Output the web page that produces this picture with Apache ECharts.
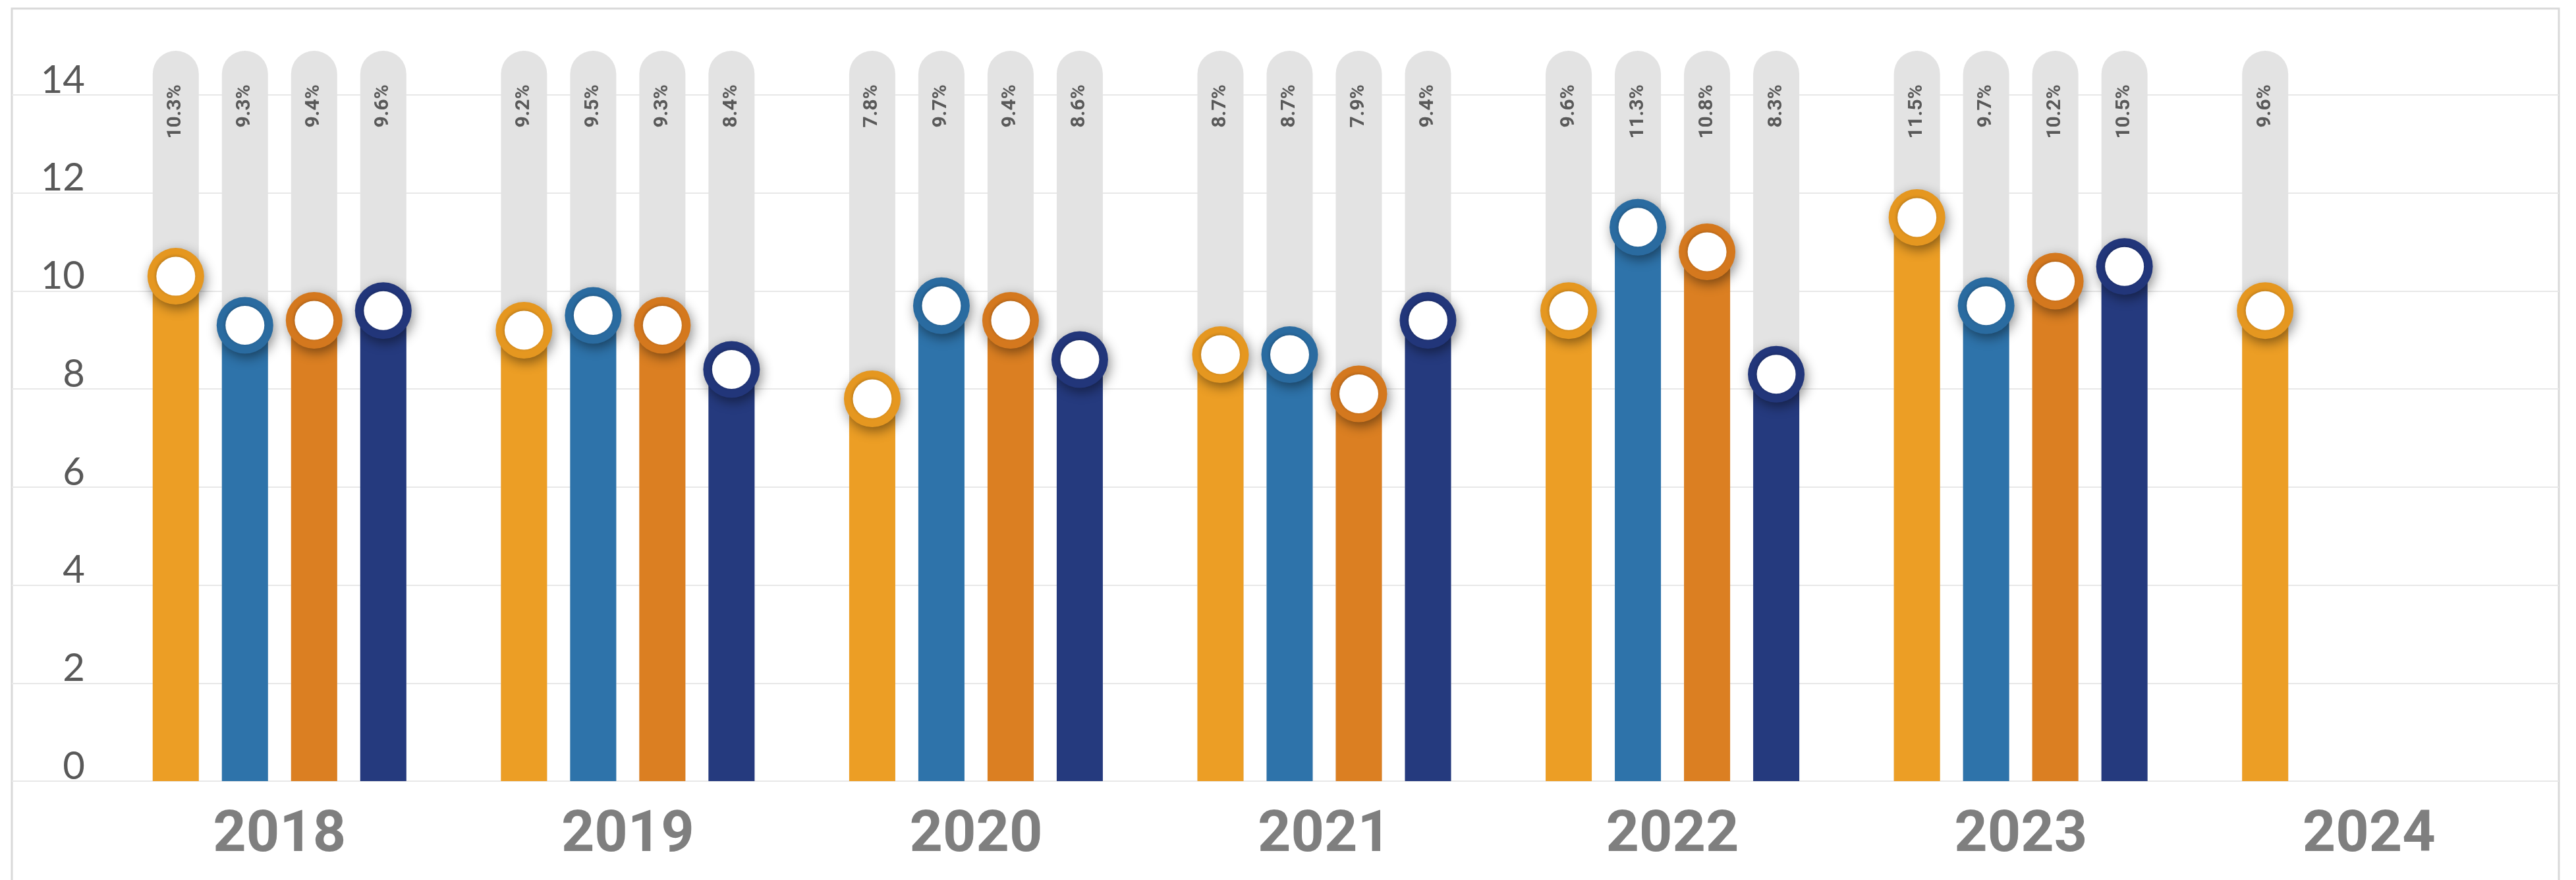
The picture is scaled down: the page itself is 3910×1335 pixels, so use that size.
<!DOCTYPE html>
<html>
<head>
<meta charset="utf-8">
<script src="https://cdn.jsdelivr.net/npm/echarts@6/dist/echarts.min.js"></script>
<style>
  html, body { margin: 0; padding: 0; background: #ffffff; }
  #chart { width: 3910px; height: 1335px; }
</style>
</head>
<body>
<div id="chart"></div>
<script>
// Years on the category axis
const years = ['2018', '2019', '2020', '2021', '2022', '2023', '2024'];

// Quarterly rates (%) for each year; 2024 has only its first quarter so far
const q1 = [10.3, 9.2, 7.8, 8.7, 9.6, 11.5, 9.6];
const q2 = [9.3, 9.5, 9.7, 8.7, 11.3, 9.7, null];
const q3 = [9.4, 9.3, 9.4, 7.9, 10.8, 10.2, null];
const q4 = [9.6, 8.4, 8.6, 9.4, 8.3, 10.5, null];

// Value axis ticks
const yTicks = [0, 2, 4, 6, 8, 10, 12, 14];

const quarters = [q1, q2, q3, q4];
const colors = ['#EC9E25', '#2E73AA', '#DB7F22', '#253A7E'];
const ringColors = ['#E59720', '#2A6BA0', '#D4781E', '#22367A'];
const TRACK_TOP = 14.9;      // height of the grey track behind each bar
const BAR_W = 70;
const GAP = '50%';

const chart = echarts.init(document.getElementById('chart'), null, { renderer: 'canvas' });

const series = [];

// grey rounded tracks carrying the rotated value labels
quarters.forEach((vals, i) => {
  series.push({
    type: 'bar',
    xAxisIndex: 1,
    yAxisIndex: 1,
    barWidth: BAR_W,
    barGap: GAP,
    clip: false,
    z: 1,
    silent: true,
    itemStyle: { color: '#E3E3E3', borderRadius: [35, 35, 0, 0] },
    data: vals.map(v => (v == null ? null : TRACK_TOP)),
    label: {
      show: true,
      position: 'insideTop',
      distance: 51,
      rotate: 90,
      align: 'right',
      verticalAlign: 'middle',
      fontFamily: 'Roboto',
      fontWeight: 'bold',
      fontSize: 30,
      color: '#595959',
      formatter: p => vals[p.dataIndex].toFixed(1) + '%'
    }
  });
});

// coloured value bars
quarters.forEach((vals, i) => {
  series.push({
    type: 'bar',
    xAxisIndex: 2,
    yAxisIndex: 1,
    barWidth: BAR_W,
    barGap: GAP,
    z: 2,
    silent: true,
    itemStyle: { color: colors[i] },
    data: vals
  });
});

// ring markers on top of each bar: a coloured disc with a drop shadow ...
quarters.forEach((vals, i) => {
  series.push({
    type: 'pictorialBar',
    xAxisIndex: 3,
    yAxisIndex: 1,
    barWidth: BAR_W,
    barGap: GAP,
    z: 3,
    silent: true,
    symbol: 'circle',
    symbolSize: [86, 86],
    symbolPosition: 'end',
    symbolOffset: [0, '-50%'],
    itemStyle: {
      color: ringColors[i],
      shadowColor: 'rgba(0,0,0,0.45)',
      shadowBlur: 18,
      shadowOffsetX: 3,
      shadowOffsetY: 6
    },
    data: vals
  });
});

// ... and a white centre
quarters.forEach((vals, i) => {
  series.push({
    type: 'pictorialBar',
    xAxisIndex: 4,
    yAxisIndex: 1,
    barWidth: BAR_W,
    barGap: GAP,
    z: 4,
    silent: true,
    symbol: 'circle',
    symbolSize: [59, 59],
    symbolPosition: 'end',
    symbolOffset: [0, '-50%'],
    itemStyle: {
      color: '#ffffff',
      shadowColor: 'rgba(0,0,0,0.22)',
      shadowBlur: 4,
      shadowOffsetX: -1,
      shadowOffsetY: -1
    },
    data: vals
  });
});

const hiddenCat = (pos) => ({ type: 'category', gridIndex: 1, data: years, show: false, position: pos });

const option = {
  animation: false,
  backgroundColor: '#ffffff',
  graphic: [{
    type: 'rect',
    shape: { x: 18, y: 13, width: 3866, height: 1340 },
    style: { fill: 'none', stroke: '#D9D9D9', lineWidth: 3 },
    silent: true,
    z: -10
  }],
  grid: [
    // full-width grid that only draws the horizontal gridlines
    { left: 18, right: 26, top: 144, bottom: 150 },
    // plotting grid for the bars
    { left: 160, right: 50, top: 144, bottom: 150 }
  ],
  xAxis: [
    { type: 'value', gridIndex: 0, show: false, min: 0, max: 1 },
    hiddenCat('top'),
    {
      type: 'category', gridIndex: 1, data: years, position: 'bottom',
      axisLine: { show: false },
      axisTick: { show: false },
      axisLabel: {
        margin: 40,
        fontFamily: 'Roboto',
        fontWeight: 'bold',
        fontSize: 88,
        lineHeight: 88,
        color: '#7F7F7F'
      }
    },
    hiddenCat('top'),
    hiddenCat('top')
  ],
  yAxis: [
    {
      type: 'value', gridIndex: 0, min: yTicks[0], max: yTicks[yTicks.length - 1], interval: 2,
      axisLine: { show: false }, axisTick: { show: false }, axisLabel: { show: false },
      splitLine: { show: true, lineStyle: { color: '#E8E8E8', width: 2 } }
    },
    {
      type: 'value', gridIndex: 1, min: yTicks[0], max: yTicks[yTicks.length - 1], interval: 2,
      axisLine: { show: false }, axisTick: { show: false },
      splitLine: { show: false },
      axisLabel: {
        margin: 31,
        fontFamily: 'Lato',
        fontSize: 58,
        color: '#595959',
        formatter: v => '{t|' + v + '}',
        rich: {
          t: {
            fontFamily: 'Lato',
            fontSize: 58,
            color: '#595959',
            padding: [0, 0, 44, 0]
          }
        }
      }
    }
  ],
  series: series
};

chart.setOption(option);
</script>
</body>
</html>
